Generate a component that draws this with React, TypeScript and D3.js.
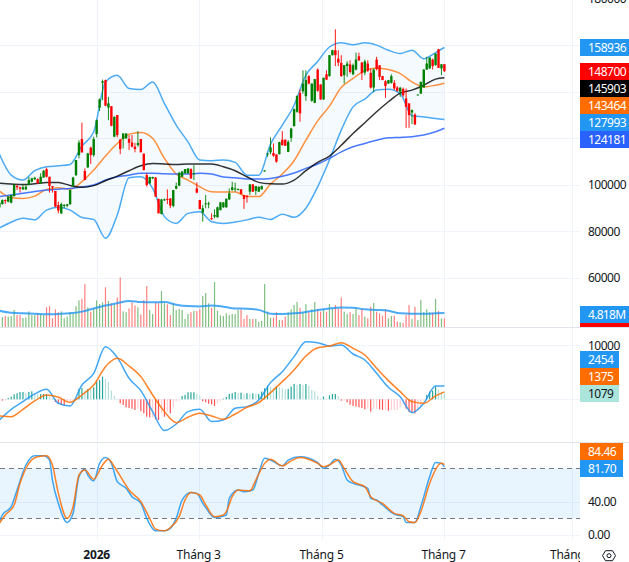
import * as React from 'react';
import * as d3 from 'd3';

// candles, one entry per session, prices in thousands
const opens = [90.3,91.7,93.4,92.7,92.3,95.1,99.4,98.9,98.0,98.0,99.9,101.3,102.3,102.4,100.6,103.1,106.7,103.4,99.4,97.3,91.3,87.7,90.9,91.0,91.6,99.4,104.1,112.7,119.6,105.9,107.4,115.9,112.7,121.7,133.0,143.7,144.9,133.1,133.7,120.6,129.9,119.4,119.6,119.9,119.6,118.1,116.3,117.0,119.6,113.3,104.1,100.6,102.7,103.1,93.9,87.4,93.4,93.9,94.1,90.9,98.3,99.6,103.4,104.9,104.9,106.7,104.6,98.4,93.4,88.0,91.7,91.7,85.6,86.3,86.0,89.1,90.3,90.3,93.7,97.7,98.0,97.9,98.0,95.6,95.1,97.0,100.1,97.4,97.0,98.0,105.9,113.1,113.9,113.6,113.0,113.1,119.3,119.3,114.1,120.1,125.1,131.3,139.4,140.1,138.0,146.6,136.0,135.1,149.4,143.0,136.6,147.4,146.6,155.6,157.7,154.1,152.3,147.0,150.9,151.6,147.4,149.4,155.1,152.4,148.1,152.0,148.0,141.7,153.7,151.3,146.6,144.4,143.4,143.7,143.7,141.7,139.9,141.1,137.0,134.9,131.0,130.1,138.6,139.1,141.7,149.4,149.9,153.7,151.3,158.1,149.9,151.7];
const highs = [93.4,93.7,93.7,95.1,95.6,100.1,100.1,99.1,100.1,99.9,103.4,103.0,103.4,102.7,104.9,106.3,107.3,103.4,99.4,97.3,92.7,92.3,91.7,91.7,97.7,103.4,110.6,119.1,126.6,107.0,113.7,116.3,120.6,128.0,137.0,145.1,145.1,137.7,133.7,129.4,129.9,119.4,122.0,122.0,121.3,121.3,118.0,123.0,119.7,113.4,104.9,103.4,103.4,103.3,94.0,93.9,94.1,98.0,94.1,97.7,100.9,105.6,105.9,106.7,107.0,107.0,108.4,101.0,93.4,91.3,95.6,92.7,87.7,89.4,90.6,92.6,92.6,94.0,98.4,101.3,100.9,98.4,98.1,95.6,95.6,100.3,100.3,99.4,99.3,99.6,106.3,113.7,120.3,117.7,113.0,118.4,123.0,119.4,119.1,124.4,132.7,138.4,140.9,149.1,149.1,147.0,143.4,145.4,149.9,143.1,145.9,149.1,155.7,157.9,166.7,157.7,155.6,151.3,153.0,153.4,152.0,156.7,156.7,152.7,153.7,153.4,149.9,149.9,154.9,151.3,146.6,144.9,145.0,147.4,144.9,142.3,142.0,141.7,141.3,134.9,132.3,130.6,138.7,144.3,149.6,154.9,154.6,154.1,156.3,158.3,151.7,151.7];
const lows = [89.9,91.4,91.7,92.4,92.0,94.9,97.7,96.6,97.7,97.7,99.7,101.0,102.0,100.4,100.3,103.0,103.1,96.6,96.6,90.3,87.7,87.4,89.9,90.3,91.4,99.1,103.7,111.3,113.7,102.0,107.3,108.9,112.0,120.3,131.6,136.3,133.7,127.7,125.1,120.4,120.3,113.1,115.6,119.7,114.9,116.0,113.9,116.3,113.9,106.1,99.1,100.3,102.4,94.7,87.7,87.3,93.0,91.7,89.9,90.3,98.0,99.4,103.3,104.7,104.7,102.4,102.0,96.3,89.4,84.1,89.9,89.9,84.9,85.6,85.9,89.0,90.1,90.1,93.4,97.4,97.0,97.6,95.9,89.6,92.3,95.6,96.9,95.6,96.9,97.9,105.7,112.0,113.1,112.0,109.4,113.0,116.7,116.6,114.0,118.4,125.1,130.9,127.0,139.1,136.0,143.1,135.6,135.0,139.9,136.4,136.4,144.9,146.4,155.4,150.9,150.9,146.3,143.4,146.3,147.7,147.0,149.1,153.1,144.9,147.0,148.4,141.3,139.9,149.1,144.9,144.9,137.3,143.3,143.4,140.6,139.9,137.7,137.7,124.4,124.4,126.0,125.6,138.5,139.0,141.6,149.4,149.7,149.4,151.1,150.1,147.0,148.4];
const closes = [92.3,93.4,93.0,94.9,95.6,99.9,98.9,98.3,98.9,99.1,102.0,102.7,103.0,100.6,103.4,106.0,103.4,99.4,98.9,90.6,88.9,91.7,91.3,91.6,97.7,103.1,110.6,118.1,113.9,102.0,113.4,112.7,119.6,127.7,136.6,144.4,133.9,134.9,125.3,129.1,121.3,115.3,122.0,122.0,118.0,116.3,115.3,117.9,113.9,106.3,99.9,103.3,103.3,94.9,87.7,93.7,93.7,93.7,91.0,97.7,99.4,105.1,105.7,106.7,107.0,102.7,104.9,96.6,89.6,89.9,92.0,92.0,85.3,87.0,90.3,92.4,92.4,94.0,96.3,98.9,98.4,98.1,96.0,93.9,94.9,100.1,97.0,99.4,99.1,99.4,106.1,113.4,116.0,112.4,109.9,118.3,117.0,116.7,118.4,124.1,132.4,138.0,130.6,143.4,144.9,143.4,143.4,145.3,140.3,136.6,145.9,145.1,155.6,157.7,155.6,152.4,146.6,151.3,152.0,148.4,151.3,153.7,153.4,148.0,152.9,148.9,141.7,149.4,149.6,146.3,144.9,142.3,144.9,146.6,141.3,140.3,141.6,138.4,133.4,129.9,132.0,125.9,138.7,144.1,149.4,152.0,154.6,150.9,156.3,150.1,151.7,148.7];

// volume in millions
const volumes = [3.6,3.4,3.8,3.6,3.8,5.9,4.1,4.1,3.1,3.3,5.4,4.1,4.1,4.7,4.4,4.1,6.8,7.2,3.0,6.1,5.1,5.4,3.0,3.6,5.1,4.7,7.2,9.2,9.7,14.8,6.8,5.3,6.4,9.2,7.9,8.5,13.7,9.0,8.2,7.8,10.2,17.1,5.4,5.1,6.4,8.5,7.4,6.8,4.3,9.3,14.1,5.9,4.5,8.4,8.2,12.4,8.2,7.8,4.1,8.2,5.9,6.2,5.9,2.8,4.5,5.1,5.6,5.5,6.2,10.7,11.7,8.2,6.6,15.5,5.6,4.0,3.8,4.7,4.1,4.5,4.5,5.9,6.1,2.8,4.1,2.8,2.8,2.8,1.7,2.1,14.8,5.3,3.2,3.2,5.1,2.4,2.4,3.6,5.1,6.1,7.6,8.6,6.6,5.1,7.9,5.1,6.1,8.6,6.1,5.3,6.1,5.3,7.9,6.4,7.6,6.4,10.2,5.3,4.5,5.1,4.5,6.4,4.1,6.4,3.6,3.0,7.0,8.3,5.3,4.7,3.9,6.1,3.0,3.8,3.9,1.8,1.6,1.3,4.1,7.6,2.8,7.0,2.4,9.3,5.1,6.1,5.1,4.9,9.7,5.5,3.0,3.0];

// MACD histogram
const macdHist = [-120,-250,-190,250,500,930,1120,1360,1360,1120,1360,1490,1120,990,990,990,990,500,250,-500,-870,-1050,-1240,-620,-500,-190,250,1920,2110,1610,1920,1860,2230,3290,3600,4220,3780,3220,1610,620,120,-740,-1050,-1490,-1610,-1740,-1980,-1740,-2230,-2600,-3220,-3350,-3350,-3720,-3840,-2600,-3220,-2290,-2600,-1490,-430,-250,620,810,1300,1300,1300,990,680,-370,-560,-810,-930,-1240,-740,-370,120,430,990,1120,1360,1120,1240,930,1120,990,1120,990,990,1430,2050,2540,2360,2110,2360,2230,2050,1860,1920,2360,2850,2670,2850,2670,2850,2480,1740,1490,620,120,500,120,740,990,990,620,-250,-250,-560,-990,-1240,-1360,-1490,-1610,-1860,-1740,-2290,-1740,-1740,-1860,-1980,-1980,-2110,-1980,-1980,-1980,-1490,-1050,-1740,-2290,-2480,-2600,-1980,-1360,-250,810,1430,1610,2360,1740,1360,1079];

const knots = [0,4,8,12,16,20,24,28,32,36,40,44,48,52,56,60,64,68,72,76,80,84,88,92,96,100,104,108,112,116,120,124,128,132,136,140,144,148,151];
const bbUpper = [113.1,104.1,102.0,106.0,107.7,108.1,108.7,116.6,122.7,144.1,147.0,141.3,140.9,144.1,134.9,125.6,118.4,110.6,110.3,110.6,109.6,104.1,104.1,117.4,125.6,134.1,147.0,152.9,159.1,160.9,160.1,160.9,159.9,157.7,156.3,157.7,154.1,156.7,158.9];
const bbLower = [81.4,83.9,85.6,84.9,89.1,90.3,89.1,85.9,85.1,77.0,87.0,103.0,103.4,98.4,86.3,83.4,87.7,88.4,84.1,83.4,84.0,84.9,86.0,85.1,87.3,86.0,89.9,99.1,110.6,123.4,133.4,136.7,140.6,141.0,139.1,129.6,129.1,128.4,128.0];
const bbBasis = [97.3,94.4,94.1,95.1,98.0,98.7,98.1,101.3,106.3,112.3,117.7,121.7,122.4,119.9,111.3,104.6,102.0,99.1,97.0,96.9,96.9,94.9,94.9,100.3,104.6,110.3,119.1,127.4,133.7,141.7,145.6,148.9,150.1,149.4,147.7,144.1,142.0,142.7,143.5];
const maBlack = [100.6,100.3,100.1,100.4,100.9,100.9,99.7,98.9,99.6,101.7,103.7,106.0,108.1,109.1,108.9,108.7,108.9,108.9,108.9,107.7,106.0,103.4,101.0,100.4,100.3,102.0,106.0,109.6,112.3,116.9,122.0,126.6,131.3,135.6,139.3,140.6,142.7,145.3,145.9];
const maBlue = [94.9,95.6,96.3,97.1,97.7,98.1,98.4,99.0,99.9,102.0,103.4,104.1,104.9,104.9,104.7,104.6,104.6,104.9,104.6,103.3,103.0,102.4,102.4,102.7,103.6,105.0,107.0,108.9,111.3,114.1,116.3,117.7,119.1,120.1,120.3,120.6,121.3,122.7,124.2];
const volumeMa = [5.6,4.9,4.7,4.6,4.4,4.5,4.7,5.3,6.4,7.4,8.2,9.0,8.6,8.5,8.6,7.7,7.2,7.1,7.4,7.0,6.4,6.3,5.9,4.6,4.5,4.7,5.2,5.9,6.4,6.7,6.6,6.1,5.9,5.6,4.7,4.6,4.6,4.7,4.8];
const macdLine = [-3825,-1850,-430,990,1850,-740,-1230,2650,4810,9750,7770,3890,1600,-2280,-5800,-4570,-2280,-1850,-4130,-3825,-1670,-1360,-120,3085,5120,7900,10670,10490,9870,10060,8390,7280,4810,2220,490,-2470,-740,2470,2454];
const macdSignal = [-3085,-3210,-1850,-310,800,370,-555,800,2650,6050,7590,6170,4200,800,-2280,-4320,-3330,-2590,-3085,-3700,-2715,-1480,-620,1230,3270,5430,8020,9560,9870,10490,9440,8200,5740,3455,1420,-430,-740,620,1375];

// stochastic, read at its turning points
const stochKIdx = [0,1,4,6,9,12,15,17,18,20,23,25,27,29,30,32,34,36,38,40,43,45,48,50,53,56,58,60,62,65,67,69,70,73,75,77,78,81,83,86,88,90,92,96,98,102,108,110,112,114,116,118,120,122,125,126,128,130,134,137,138,141,143,146,148,150,151];
const stochK = [16,24,34,54,84,95,95,90,66,38,15,26,70,79,72,65,86,93,86,64,56,46,38,20,5,5,8,20,42,51,50,38,33,21,22,24,44,54,52,54,74,92,90,83,90,94,87,80,84,91,84,66,62,60,56,44,42,36,25,22,15,15,34,70,87,86,81.7];
const stochDIdx = [0,2,5,7,10,13,16,18,20,23,25,27,29,32,35,37,39,42,44,48,51,53,56,58,61,63,65,68,70,73,76,77,79,81,85,87,90,92,96,99,102,108,110,112,115,117,120,124,126,130,134,137,139,141,143,146,149,150,151];
const stochD = [14,24,36,62,86,94,95,84,50,20,34,72,78,67,84,91,82,65,54,40,20,7,5,9,22,42,51,48,36,22,24,28,46,54,53,66,86,91,83,89,93,86,82,84,90,80,64,58,46,38,26,23,16,15,28,62,84,86,84.46];

const priceTicks = [180000, 100000, 80000, 60000];
const priceGrid = [160, 140, 120, 100, 80, 60];
const monthTickIdx = [33, 67.6, 109.3, 150.7, 194.3];
const monthLabels = ['2026', 'Tháng 3', 'Tháng 5', 'Tháng 7', 'Tháng 9'];

const mainLabels = [
  { text: '158936', bg: '#2196f3', top: 39 },
  { text: '148700', bg: '#ff0000', top: 63 },
  { text: '145903', bg: '#000000', top: 80 },
  { text: '143464', bg: '#ff6d00', top: 97 },
  { text: '127993', bg: '#2196f3', top: 114 },
  { text: '124181', bg: '#2962ff', top: 131 },
];
const macdLabels = [
  { text: '2454', bg: '#2196f3', fg: '#fff', top: 351 },
  { text: '1375', bg: '#ff6d00', fg: '#fff', top: 368 },
  { text: '1079', bg: '#ace5dc', fg: '#131722', top: 385 },
];
const stochLabels = [
  { text: '84.46', bg: '#ff6d00', top: 443 },
  { text: '81.70', bg: '#2196f3', top: 460 },
];

const WIDTH = 629;
const HEIGHT = 562;
const AXIS_X = 580;
const GRID = '#f0f3fa';
const DIVIDER = '#e0e3eb';
const FONT = '"Noto Sans", sans-serif';
const TEXT = '#131722';
const LINE_W = 1.5;

const x = d3.scaleLinear().domain([0, 151]).range([-0.61, 444.4]);
const yPrice = d3.scaleLinear().domain([100, 120]).range([184.7, 138.1]);
const yVolume = d3.scaleLinear().domain([0, 10]).range([327, 298]);
const yMacd = d3.scaleLinear().domain([0, 10000]).range([399.3, 345.3]);
const yStoch = d3.scaleLinear().domain([0, 100]).range([535, 451.7]);

const crisp = (v: number) => Math.round(v) + 0.5;

function seriesPath(idx: number[], values: number[], y: d3.ScaleLinear<number, number>) {
  return d3.line<number>()
    .x((_, i) => x(idx[i]))
    .y((d) => y(d))
    .curve(d3.curveMonotoneX)(values) || '';
}

function TagBox({ text, bg, fg = '#fff', top, w = 49 }: { text: string; bg: string; fg?: string; top: number; w?: number }) {
  return (
    <g>
      <rect x={AXIS_X} y={top} width={w} height={17} fill={bg} />
      <text x={588} y={top + 12.8} fill={fg} fontSize={12} letterSpacing={-0.5}>{text}</text>
    </g>
  );
}

export default function App() {
  const bandArea = d3.area<number>()
    .x((_, i) => x(knots[i]))
    .y0((_, i) => yPrice(bbLower[i]))
    .y1((d) => yPrice(d))
    .curve(d3.curveMonotoneX)(bbUpper) || '';

  return (
    <svg width={WIDTH} height={HEIGHT} fontFamily={FONT} style={{ position: 'absolute', left: 0, top: 0 }}>
      <defs>
        <clipPath id="plot"><rect x={0} y={0} width={AXIS_X} height={540} /></clipPath>
        <clipPath id="timeAxis"><rect x={0} y={540} width={AXIS_X} height={22} /></clipPath>
      </defs>
      <rect width={WIDTH} height={HEIGHT} fill="#fff" />

      {/* grid */}
      {monthTickIdx.map((d) => (
        <line key={d} x1={crisp(x(d))} x2={crisp(x(d))} y1={0} y2={540} stroke={GRID} />
      ))}
      {priceGrid.map((d) => (
        <line key={d} x1={0} x2={AXIS_X} y1={crisp(yPrice(d))} y2={crisp(yPrice(d))} stroke={GRID} />
      ))}
      {[10000, 0].map((d) => (
        <line key={d} x1={0} x2={AXIS_X} y1={crisp(yMacd(d))} y2={crisp(yMacd(d))} stroke={GRID} />
      ))}
      {[40, 0].map((d) => (
        <line key={d} x1={0} x2={AXIS_X} y1={crisp(yStoch(d))} y2={crisp(yStoch(d))} stroke={GRID} />
      ))}

      <g clipPath="url(#plot)">
        {/* bollinger band */}
        <path d={bandArea} fill="#2196f3" fillOpacity={0.045} />

        {/* volume */}
        {volumes.map((v, i) => (
          <rect key={i} x={x(i) - 0.6} width={1.2} y={yVolume(v)} height={yVolume(0) - yVolume(v)}
            fill={closes[i] >= opens[i] ? '#7fbf7f' : '#ff7f7f'} />
        ))}
        <path d={seriesPath(knots, volumeMa, yVolume)} fill="none" stroke="#2196f3" strokeWidth={2} strokeOpacity={0.8} />

        <path d={seriesPath(knots, bbUpper, yPrice)} fill="none" stroke="#2196f3" strokeWidth={LINE_W} strokeOpacity={0.8} />
        <path d={seriesPath(knots, bbLower, yPrice)} fill="none" stroke="#2196f3" strokeWidth={LINE_W} strokeOpacity={0.8} />
        <path d={seriesPath(knots, bbBasis, yPrice)} fill="none" stroke="#ff6d00" strokeWidth={LINE_W} strokeOpacity={0.75} />
        <path d={seriesPath(knots, maBlue, yPrice)} fill="none" stroke="#2962ff" strokeWidth={LINE_W} strokeOpacity={0.85} />
        <path d={seriesPath(knots, maBlack, yPrice)} fill="none" stroke="#000" strokeWidth={LINE_W} strokeOpacity={0.8} />

        {/* candles */}
        {opens.map((o, i) => {
          const c = closes[i];
          const color = c >= o ? '#008000' : '#ff0000';
          const top = yPrice(Math.max(o, c));
          const bottom = yPrice(Math.min(o, c));
          return (
            <g key={i}>
              <line x1={x(i)} x2={x(i)} y1={yPrice(highs[i])} y2={yPrice(lows[i])} stroke={color} strokeWidth={0.9} />
              <rect x={x(i) - 1.2} width={2.4} y={top} height={Math.max(bottom - top, 1)} fill={color} />
            </g>
          );
        })}

        {/* macd */}
        {macdHist.map((v, i) => {
          const rising = i === 0 || v >= macdHist[i - 1];
          const color = v >= 0 ? (rising ? '#26a69a' : '#b2dfdb') : (rising ? '#ffcdd2' : '#ff5252');
          return (
            <rect key={i} x={x(i) - 0.6} width={1.2} y={Math.min(yMacd(v), yMacd(0))}
              height={Math.abs(yMacd(v) - yMacd(0))} fill={color} />
          );
        })}
        <path d={seriesPath(knots, macdLine, yMacd)} fill="none" stroke="#2196f3" strokeWidth={LINE_W} strokeOpacity={0.85} />
        <path d={seriesPath(knots, macdSignal, yMacd)} fill="none" stroke="#ff6d00" strokeWidth={LINE_W} strokeOpacity={0.85} />

        {/* stochastic */}
        <rect x={0} width={AXIS_X} y={yStoch(80)} height={yStoch(20) - yStoch(80)} fill="#2196f3" fillOpacity={0.1} />
        {[80, 20].map((d) => (
          <line key={d} x1={0} x2={AXIS_X} y1={crisp(yStoch(d))} y2={crisp(yStoch(d))}
            stroke="#787b86" strokeDasharray="5 4" />
        ))}
        <path d={seriesPath(stochKIdx, stochK, yStoch)} fill="none" stroke="#2196f3" strokeWidth={LINE_W} strokeOpacity={0.85} />
        <path d={seriesPath(stochDIdx, stochD, yStoch)} fill="none" stroke="#ff6d00" strokeWidth={LINE_W} strokeOpacity={0.85} />
      </g>

      {/* pane dividers */}
      <line x1={0} x2={WIDTH} y1={327.5} y2={327.5} stroke={DIVIDER} />
      <line x1={0} x2={WIDTH} y1={442.5} y2={442.5} stroke={DIVIDER} />

      {/* price axis */}
      <g fill={TEXT} fontSize={12} letterSpacing={-0.5}>
        {priceTicks.map((d) => (
          <text key={d} x={588} y={yPrice(d / 1000) + 4.3}>{d}</text>
        ))}
        <text x={588} y={yMacd(10000) + 4.3}>10000</text>
        <text x={588} y={yStoch(40) + 4.3}>40.00</text>
        <text x={588} y={yStoch(0) + 4.3}>0.00</text>
      </g>
      {mainLabels.map((d) => <TagBox key={d.text} {...d} />)}
      <rect x={AXIS_X} y={306} width={49} height={17} fill="#2196f3" />
      <text x={588} y={318.8} fill="#fff" fontSize={12} letterSpacing={-0.7}>4.818M</text>
      <rect x={AXIS_X} y={323} width={49} height={4} fill="#ff0000" />
      {macdLabels.map((d) => <TagBox key={d.text} {...d} w={39} />)}
      {stochLabels.map((d) => <TagBox key={d.text} {...d} w={43} />)}

      {/* time axis */}
      <g clipPath="url(#timeAxis)" fill={TEXT} fontSize={12} textAnchor="middle">
        {monthLabels.map((d, i) => (
          <text key={d} x={x(monthTickIdx[i])} y={559} fontWeight={d === '2026' ? 700 : 400} letterSpacing={-0.2}>{d}</text>
        ))}
      </g>

      {/* settings icon */}
      <path d="M602.5 555.7 L605.5 550.7 L612.5 550.7 L615.5 555.7 L612.5 560.7 L605.5 560.7 Z" fill="none" stroke="#131722" />
      <circle cx={609} cy={555.7} r={2} fill="none" stroke="#131722" />
    </svg>
  );
}
